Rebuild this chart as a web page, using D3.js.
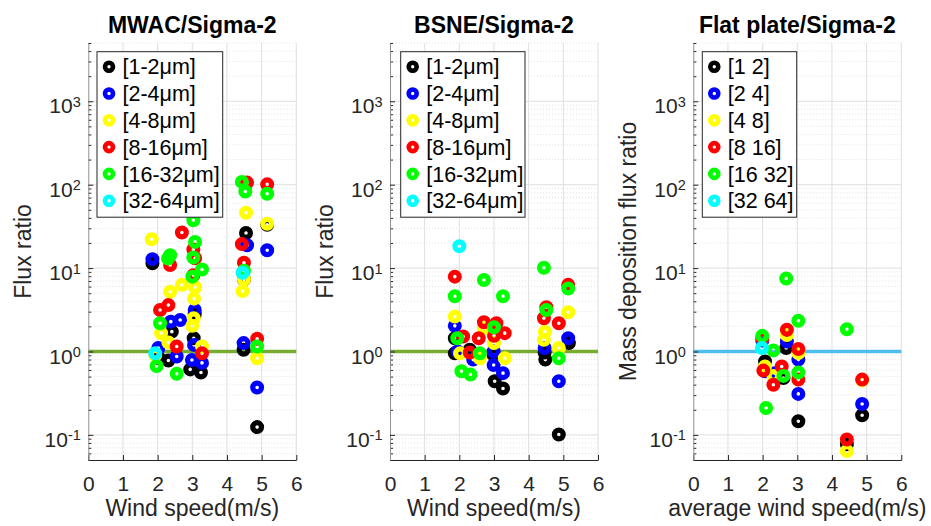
<!DOCTYPE html>
<html>
<head>
<meta charset="utf-8">
<script src="https://cdn.jsdelivr.net/npm/d3@7"></script>
<style>
  body { margin: 0; background: #fff; }
  svg { display: block; font-family: Arial, "Liberation Sans", Helvetica, sans-serif; }
</style>
</head>
<body>
<svg id="chart" width="931" height="526"></svg>
<script>
// Particle size bins: colours and legend labels
const binColors = ['#000000', '#0000ff', '#ffff00', '#ff0000', '#00ff00', '#00ffff'];
const binLabelsDash = ['[1-2μm]', '[2-4μm]', '[4-8μm]', '[8-16μm]', '[16-32μm]', '[32-64μm]'];
const binLabelsSpace = ['[1 2]', '[2 4]', '[4 8]', '[8 16]', '[16 32]', '[32 64]'];

const panelTitles = ['MWAC/Sigma-2', 'BSNE/Sigma-2', 'Flat plate/Sigma-2'];
const yLabels = ['Flux ratio', 'Flux ratio', 'Mass deposition flux ratio'];
const xLabels = ['Wind speed(m/s)', 'Wind speed(m/s)', 'average wind speed(m/s)'];
const refColors = ['#77ac30', '#77ac30', '#4dbeee'];

const xTickValues = [0, 1, 2, 3, 4, 5, 6];
const yDecades = [0.1, 1, 10, 100, 1000];
const yExponents = ['-1', '0', '1', '2', '3'];

// MWAC / Sigma-2 : [wind speed, flux ratio]
const mwacBlack  = [[1.85,11.4],[2.04,0.83],[2.31,0.78],[2.41,1.73],[2.94,0.61],[3.04,1.44],[3.07,2.8],[3.25,0.56],[4.48,1.05],[4.49,7.3],[4.55,26.4],[4.87,0.124],[5.16,33]];
const mwacBlue   = [[1.85,12.8],[2.02,1.1],[2.38,2.28],[2.55,0.87],[2.65,2.39],[2.99,0.79],[3.05,1.2],[3.07,3.15],[3.28,0.73],[4.48,1.26],[4.58,18.8],[4.87,0.37],[5.16,16.4]];
const mwacYellow = [[1.83,22.2],[1.93,0.91],[2.10,1.66],[2.31,1.28],[2.36,5.2],[2.70,6.3],[3.00,2.03],[3.04,2.5],[3.05,4.3],[3.08,5.9],[3.28,1.15],[4.45,5.3],[4.49,7.3],[4.55,46],[4.87,0.83],[5.16,34]];
const mwacRed    = [[2.07,3.15],[2.31,3.6],[2.36,10.9],[2.55,1.15],[2.70,26.7],[3.03,16.7],[3.03,8.2],[3.08,13.1],[3.28,0.95],[4.43,19.4],[4.49,11.6],[4.58,106],[4.87,1.42],[5.16,101]];
const mwacGreen  = [[1.97,0.67],[2.07,2.18],[2.30,13],[2.36,14.3],[2.55,0.54],[3.00,7.9],[3.03,13.4],[3.03,37.5],[3.08,20.6],[3.28,9.6],[4.43,108],[4.49,9.3],[4.53,83],[4.87,1.15],[5.16,78]];
const mwacCyan   = [[1.93,0.95],[4.45,8.8]];

// BSNE / Sigma-2
const bsneBlack  = [[1.87,1.44],[1.87,0.95],[2.30,1.05],[2.99,0.91],[3.02,0.44],[3.26,0.36],[4.46,0.97],[4.48,0.8],[4.87,0.101],[5.16,1.26]];
const bsneBlue   = [[1.87,2.03],[1.95,1.0],[2.40,0.8],[2.99,1.0],[2.99,0.69],[3.26,0.55],[4.46,1.1],[4.87,0.44],[5.14,1.44]];
const bsneYellow = [[1.87,2.62],[2.02,0.95],[2.59,0.83],[2.71,1.9],[3.00,1.26],[3.31,0.83],[4.44,1.38],[4.47,1.73],[4.87,1.1],[5.14,2.95]];
const bsneRed    = [[1.87,7.9],[2.11,1.51],[2.30,0.97],[2.56,1.44],[2.71,2.24],[3.00,1.54],[3.07,2.18],[3.31,1.66],[4.44,2.5],[4.51,3.39],[4.87,2.18],[5.14,6.3]];
const bsneGreen  = [[1.87,4.6],[1.94,1.44],[2.06,0.58],[2.32,0.53],[2.59,0.95],[2.71,7.2],[3.00,1.95],[3.26,4.6],[4.44,10.1],[4.51,3.15],[4.87,0.83],[5.14,5.7]];
const bsneCyan   = [[2.00,18.3]];

// Flat plate / Sigma-2
const flatBlack  = [[2.07,0.76],[2.60,0.48],[2.68,1.1],[3.03,0.146],[4.43,0.077],[4.87,0.172]];
const flatBlue   = [[1.99,1.35],[2.07,0.58],[2.35,0.55],[2.70,1.32],[3.03,0.8],[3.03,0.31],[4.87,0.235]];
const flatYellow = [[1.99,1.45],[2.07,0.66],[2.31,0.51],[2.70,1.58],[3.03,0.96],[4.43,0.064],[4.87,0.45]];
const flatRed    = [[1.99,1.45],[2.02,0.59],[2.31,0.4],[2.55,0.66],[2.70,1.82],[3.03,1.07],[3.03,0.46],[4.43,0.088],[4.87,0.46]];
const flatGreen  = [[1.99,1.54],[2.10,0.21],[2.31,1.03],[2.60,0.51],[2.68,7.5],[3.03,2.34],[3.03,0.56],[4.43,1.85]];
const flatCyan   = [[1.98,1.1]];

const panelSeries = [
  [mwacBlack, mwacBlue, mwacYellow, mwacRed, mwacGreen, mwacCyan],
  [bsneBlack, bsneBlue, bsneYellow, bsneRed, bsneGreen, bsneCyan],
  [flatBlack, flatBlue, flatYellow, flatRed, flatGreen, flatCyan]
];
const panelLegends = [binLabelsDash, binLabelsDash, binLabelsSpace];
const refValue = 1;

// Layout
const panelLefts = [88.3, 390, 693.3];
const panelWidth = 208;
const plotTop = 43, plotBottom = 460;
const legendWidths = [125.7, 124.3, 94.4];
const legendOffsets = [8.7, 10.7, 9];

const svg = d3.select('#chart');

const y = d3.scaleLog().domain([0.05, 5000]).range([plotBottom, plotTop]);

// Minor log positions inside the domain
const yMinor = [];
for (let e = -2; e <= 3; e++) {
  for (let k = 2; k <= 9; k++) {
    const v = k * Math.pow(10, e);
    if (v >= 0.05 && v <= 5000) yMinor.push(v);
  }
}

panelSeries.forEach((series, p) => {
  const x0 = panelLefts[p];
  const x = d3.scaleLinear().domain([0, 6]).range([x0, x0 + panelWidth]);
  const g = svg.append('g');

  // grid
  const grid = g.append('g');
  grid.selectAll('line.minor').data(yMinor).join('line')
    .attr('x1', x(0)).attr('x2', x(6))
    .attr('y1', d => y(d)).attr('y2', d => y(d))
    .attr('stroke', '#e3e3e3').attr('stroke-width', 1)
    .attr('stroke-dasharray', '1,2');
  grid.selectAll('line.hmaj').data(yDecades).join('line')
    .attr('x1', x(0)).attr('x2', x(6))
    .attr('y1', d => y(d)).attr('y2', d => y(d))
    .attr('stroke', '#dfdfdf').attr('stroke-width', 1);
  grid.selectAll('line.vmaj').data(xTickValues.slice(1)).join('line')
    .attr('x1', d => x(d)).attr('x2', d => x(d))
    .attr('y1', plotTop).attr('y2', plotBottom)
    .attr('stroke', '#dfdfdf').attr('stroke-width', 1);

  // reference line at ratio = 1
  g.append('line')
    .attr('x1', x(0)).attr('x2', x(6))
    .attr('y1', y(refValue)).attr('y2', y(refValue))
    .attr('stroke', refColors[p]).attr('stroke-width', 3.5);

  // markers, drawn bin by bin
  series.forEach((pts, s) => {
    g.append('g').selectAll('circle').data(pts).join('circle')
      .attr('cx', d => x(d[0])).attr('cy', d => y(d[1]))
      .attr('r', 4.4)
      .attr('fill', 'none')
      .attr('stroke', binColors[s])
      .attr('stroke-width', 5.2);
  });

  // x axis
  const xAxis = d3.axisBottom(x).tickValues(xTickValues).tickFormat(d3.format('d'))
    .tickSizeInner(-5).tickSizeOuter(0).tickPadding(16);
  const gx = g.append('g').attr('transform', `translate(0,${plotBottom})`).call(xAxis);
  gx.select('.domain').attr('stroke', '#262626');
  gx.selectAll('.tick line').attr('stroke', '#262626');
  gx.selectAll('.tick text').attr('fill', '#262626').style('font-size', '21px');

  // y axis (log) with minor ticks
  const yAxisMinor = d3.axisLeft(y).tickValues(yMinor).tickFormat('').tickSizeInner(-3).tickSizeOuter(0);
  const gym = g.append('g').attr('transform', `translate(${x0},0)`).call(yAxisMinor);
  gym.select('.domain').remove();
  gym.selectAll('.tick line').attr('stroke', '#262626');

  const yAxis = d3.axisLeft(y).tickValues(yDecades).tickSizeInner(-5).tickSizeOuter(0).tickPadding(7.5)
    .tickFormat(() => '');
  const gy = g.append('g').attr('transform', `translate(${x0},0)`).call(yAxis);
  gy.select('.domain').attr('stroke', '#8f8f8f');
  gy.selectAll('.tick line').attr('stroke', '#262626');
  gy.selectAll('.tick text').each(function(d, i) {
    const t = d3.select(this).text(null)
      .attr('fill', '#262626').attr('dy', '0.55em').style('font-size', '21px');
    t.append('tspan').text('10');
    t.append('tspan').attr('dy', '-0.45em').style('font-size', '14.5px').text(yExponents[i]);
  });

  // title
  g.append('text')
    .attr('x', x(3)).attr('y', 32.5)
    .attr('text-anchor', 'middle')
    .style('font-size', '23px').style('font-weight', 'bold')
    .attr('fill', '#000')
    .text(panelTitles[p]);

  // axis labels
  g.append('text')
    .attr('x', x(3)).attr('y', 516)
    .attr('text-anchor', 'middle')
    .style('font-size', '23px').attr('fill', '#262626')
    .text(xLabels[p]);
  g.append('text')
    .attr('transform', `translate(${x0 - 57},${(plotTop + plotBottom) / 2}) rotate(-90)`)
    .attr('text-anchor', 'middle')
    .style('font-size', '23px').attr('fill', '#262626')
    .text(yLabels[p]);

  // legend
  const lx = x0 + legendOffsets[p], ly = 51.7, rowH = 26.8;
  const lg = g.append('g').attr('transform', `translate(${lx},${ly})`);
  lg.append('rect')
    .attr('width', legendWidths[p]).attr('height', 165.5)
    .attr('fill', '#fff').attr('stroke', '#262626').attr('stroke-width', 1);
  const rows = lg.selectAll('g.row').data(panelLegends[p]).join('g')
    .attr('transform', (d, i) => `translate(0,${15 + i * rowH})`);
  rows.append('circle')
    .attr('cx', 12).attr('cy', 0).attr('r', 4)
    .attr('fill', 'none').attr('stroke', (d, i) => binColors[i]).attr('stroke-width', 4.6);
  rows.append('text')
    .attr('x', 25.5).attr('y', 0).attr('dy', '0.36em')
    .style('font-size', '21.5px').attr('fill', '#000')
    .text(d => d);
});
</script>
</body>
</html>
